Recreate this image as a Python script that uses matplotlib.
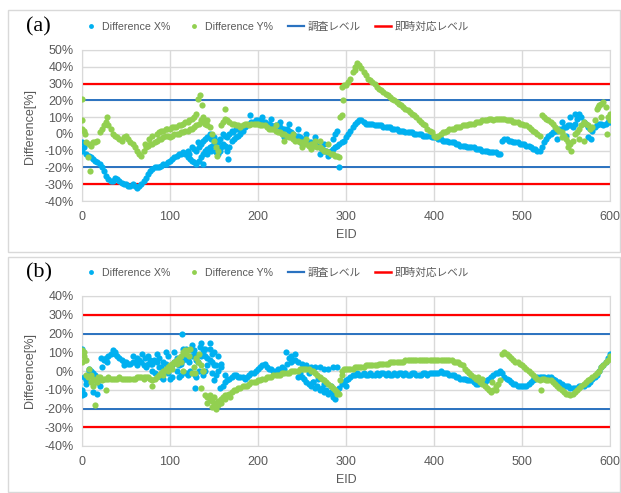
import numpy as np
import matplotlib
matplotlib.use('Agg')
import matplotlib.pyplot as plt
from matplotlib.lines import Line2D
from matplotlib.patches import Rectangle

plt.rcParams['font.family'] = ['Liberation Sans', 'Noto Sans CJK JP']

# EID sampled every 5 along the main bands, plus the in-between samples
eid = np.arange(0, 601, 5)
eid_off = np.arange(2.5, 600, 5)

# ---- (a) ----
xa = [-5, -12, -14, -16, -18, -22, -27, -28, -27, -29, -30, -31, -31, -31, -28, -24, -21, -20, -19, -18,
      -16, -14, -12, -11, -14, -16, -18, -14, -10, -8, -6, -12, -6, -10, -4, -2, 0, 4, 6, 7,
      8, 7, 6, 5, 5, 4, 3, 2, 0, -1, -3, -4, -5, -6, -8, -10, -11, -9, -7, -5,
      -2, 2, 6, 8, 7, 6, 6, 5, 5, 4, 4, 3, 2, 2, 1, 1, 0, 0, -1, -1,
      -2, -3, -4, -4, -5, -6, -7, -7, -8, -8, -9, -10, -10, -11, -11, -12, -3, -4, -5, -5,
      -6, -7, -8, -9, -10, -5, -1, 1, 2, 3, 4, 5, 6, 12, 7, 4, 2, 5, 6, 6, 7]
xa_off = [-8, -13, -15, -17, -20, -25, -28, -26, -28, -30, -31, -30, -32, -30, -26, -22, -20, -20, -18, -17,
          -15, -13, -12, -12, -15, -17, -16, -12, -9, -7, -10, -8, -7, -8, -3, -1, 2, 5, 7, 8,
          7, 7, 6, 4, 5, 3, 3, 1, -1, -2, -3, -5, -6, -7, -9, -10, -10, -8, -6, -4,
          0, 4, 7, 8, 6, 6, 5, 5, 4, 4, 3, 3, 2, 1, 1, 0, 0, -1, -1, -2,
          -2, -3, -4, -5, -5, -6, -7, -8, -8, -9, -9, -10, -11, -11, -12, -4, -3, -4, -5, -6,
          -6, -7, -9, -10, -8, -3, 0, 2, 3, 4, 5, 4, 9, 10, 6, 3, 4, 6, 5, 7]
ya = [8, -5, -7, -5, 1, 5, 5, 0, -2, -4, -1, -5, -8, -12, -10, -7, -6, -4, -3, -1,
      -2, 0, 0, 1, 2, 3, 5, 8, 6, 4, -4, -10, 7, 8, 6, 5, 4, 6, 5, 6,
      6, 5, 4, 3, 2, 1, 0, -2, -3, -4, -5, -6, -6, -7, -8, -10, -11, -12, -13, 28,
      29, 33, 40, 41, 37, 33, 31, 28, 26, 24, 22, 20, 18, 16, 14, 12, 10, 7, 5, 2,
      -1, -1, 1, 2, 3, 4, 4, 5, 6, 6, 7, 8, 8, 9, 9, 9, 9, 8, 7, 7,
      6, 5, 3, 1, -1, 10, 8, 6, 3, 1, -3, -6, 0, 3, 7, 5, 4, 15, 18, 16, 8]
ya_off = [2, -6, -5, -4, 3, 7, 3, -1, -3, -2, -3, -6, -10, -13, -8, -6, -5, -3, -2, -1,
          -1, 0, 1, 2, 3, 4, 6, 7, 5, 0, -8, 5, 9, 7, 6, 5, 5, 6, 6, 6,
          5, 5, 3, 3, 1, 0, -1, -2, -4, -5, -5, -7, -7, -8, -9, -10, -12, -13, -14, 29,
          31, 37, 41, 39, 35, 32, 30, 27, 25, 23, 21, 19, 17, 15, 13, 11, 8, 6, 3, 1,
          -2, 0, 1, 3, 3, 4, 5, 5, 6, 7, 7, 8, 9, 8, 9, 9, 8, 8, 7, 6,
          5, 4, 2, 0, 11, 9, 7, 4, 2, -1, -5, -4, 1, 5, 6, 3, 8, 17, 19, 10]

# second branch and scattered points
xa_eid2 = [0, 120, 125, 130, 132, 135, 138, 140, 145, 150, 155, 160, 165, 166, 170, 175, 180, 191,
           122, 127, 133, 137, 142, 147, 152, 157, 162, 167, 172, 177,
           142, 147, 152, 157, 162,
           205, 215, 225, 230, 235, 245, 250, 255, 265, 270, 275, 280, 285, 288, 290, 292,
           540, 545, 550, 555, 560, 575, 578]
xa_val2 = [-10, -10, -8, -10, -5, -6, -18, -3, 0, -2, -5, 0, -2, -15, 2, 3, 4, 11,
           -12, -9, -8, -4, -2, -3, -4, -3, -1, 0, 1, 3,
           -12, -10, -11, -10, -7,
           10, 9, 7, -2, 6, 3, -6, 0, -2, -12, -6, -13, -3, 0, 2, -20,
           -3, 7, -1, 10, 12, -2, -3]
ya_eid2 = [0, 0, 3, 7, 9, 28, 72, 76, 80, 85, 90, 95, 100, 105, 110, 115, 120, 125, 130, 132, 134,
           87, 92, 97, 102, 107, 112, 117, 122, 127,
           136, 138, 142, 153, 163, 220, 230, 240, 250, 255, 260, 265, 270, 280,
           293, 295, 297, 310, 312, 545, 552, 556, 565, 570, 586, 590, 597, 600]
ya_val2 = [21, 3, 0, -14, -22, 10, -6, -3, -1, 0, 2, 3, 3, 4, 5, 6, 7, 9, 12, 21, 23,
           1, 2, 3, 4, 4, 5, 7, 8, 10,
           17, 10, 8, -13, 15, 5, -4, 0, -8, -3, -9, -4, -4, -6,
           10, 11, 20, 38, 42, -2, -8, -10, -3, -4, 16, 10, 0, 12]

# ---- (b) ----
xb = [-10, -5, 0, -2, -8, 6, 8, 11, 8, 6, 5, 4, 5, 6, 3, 8, 0, 9, -3, 10,
      -4, 10, -3, 12, -2, 14, -3, 15, 0, 12, -5, 8, -8, -5, -3, -2, -3, -4, -2, -1,
      1, 3, 2, 1, 0, 0, 1, 7, 6, 5, -3, -6, -8, -9, -10, -11, -12, -14, -10, -7,
      -5, -3, -2, -2, -1, -2, -2, -1, -1, -2, -2, -1, -1, -2, -2, -1, -2, -2, -1, -1,
      -1, -1, -1, -1, -2, -3, -4, -4, -5, -6, -7, -6, -5, -3, -1, 0, -3, -5, -7, -8,
      -8, -8, -6, -4, -3, -3, -3, -4, -6, -7, -8, -9, -9, -8, -8, -7, -4, -2, 2, 5, 9]
xb_off = [-3, 0, -1, -6, 2, 7, 9, 9, 7, 5, 4, 5, 7, 5, 2, 6, -1, 7, -4, 8,
          -3, 6, -2, 10, 0, 11, 0, 12, 3, 9, -2, 4, -6, -4, -2, -3, -3, -3, -1, 0,
          2, 4, 1, 0, 1, 2, 4, 5, 6, -1, -4, -7, -6, -8, -9, -10, -11, -12, -9, -6,
          -4, -2, -1, -2, -2, -1, -2, -2, -1, -1, -2, -2, -1, -1, -2, -1, -2, -1, -2, -1,
          -1, 0, -1, -2, -2, -3, -4, -5, -5, -7, -6, -6, -4, -2, -1, -1, -4, -6, -7, -8,
          -8, -7, -5, -3, -3, -4, -3, -5, -6, -8, -8, -9, -9, -8, -7, -6, -3, 0, 3, 7]
yb = [11, 6, -2, -5, -3, -4, -4, -4, -4, -4, -4, -4, -4, -3, -3, -3, -5, -3, -1, 1,
      3, 5, 7, 10, 11, -1, 7, 3, -13, -15, -17, -16, -14, -13, -11, -10, -9, -8, -7, -6,
      -5, -4, -3, -3, -2, -2, -1, -1, 0, 0, 1, 1, 0, -1, -3, -5, -7, -9, -11, 0,
      1, 1, 2, 2, 2, 3, 3, 3, 4, 4, 5, 5, 5, 5, 6, 6, 6, 6, 6, 6,
      6, 6, 6, 6, 6, 5, 4, 1, -1, -3, -5, -7, -9, -11, -8, -5, 10, 8, 6, 5,
      3, 1, -1, -3, -5, -4, -5, -6, -8, -10, -12, -13, -11, -9, -7, -5, -3, -1, 2, 5, 8]
yb_off = [8, 1, -4, -6, -5, -4, -4, -4, -3, -4, -4, -4, -3, -3, -3, -4, -4, -2, 0, 2,
          4, 6, 8, 11, 12, 2, 9, 0, -14, -16, -18, -15, -13, -12, -10, -9, -8, -8, -6, -6,
          -5, -4, -3, -2, -2, -1, -1, 0, 0, 1, 1, 1, 0, -2, -4, -6, -8, -10, -12, 1,
          1, 1, 2, 2, 3, 3, 3, 4, 4, 4, 5, 5, 5, 6, 6, 6, 6, 6, 6, 6,
          6, 6, 6, 6, 5, 5, 3, 0, -2, -4, -6, -8, -10, -10, -7, 9, 9, 7, 5, 4,
          2, 0, -2, -4, -4, -5, -5, -7, -9, -11, -12, -12, -10, -8, -6, -4, -2, 0, 3, 6]

xb_eid2 = [0, 0, 2, 5, 8, 12, 17, 22, 28, 38, 48, 58, 62, 68, 72, 78, 82, 88, 92, 98,
           102, 108, 112, 114, 118, 122, 128, 128, 132, 138, 142, 148, 152, 157, 158, 162,
           75, 80, 85, 90, 95, 100, 105, 110, 115, 120, 125, 130, 135, 140, 145, 150, 155,
           88, 98, 108, 118, 128, 138, 148, 118, 124, 134, 140, 145, 150,
           232, 238, 242, 245, 250, 255, 258, 260, 262, 265, 268, 270, 275, 275, 280, 283,
           285, 288, 290, 300]
xb_val2 = [12, -13, -12, -7, 1, -11, -12, 7, 5, 10, 3, 8, 3, 9, 7, 4, 6, 2, 5, 1,
           3, 7, 4, 20, 8, 5, 9, -9, 5, 10, 7, 5, 3, -9, 2, -2,
           4, 4, 5, 2, 4, 2, 5, 3, 6, 6, 8, 6, 8, 8, 6, 3, 0,
           -2, -1, 0, -1, -2, -2, -1, 12, 11, 13, 12, 15, 10,
           10, 8, 9, -3, 4, 3, -1, 2, -6, 2, -4, 2, 1, -7, 1, -8,
           2, -15, 2, -8]
yb_eid2 = [0, 2, 3, 4, 7, 10, 12, 15, 18, 27, 30, 70, 79, 92, 98, 102, 108, 112, 115, 118,
           122, 128, 132, 135, 138, 142, 145, 148, 150, 152, 155, 158, 163, 168,
           290, 293, 296, 450, 455, 466, 470, 522]
yb_val2 = [5, 10, 6, -2, -3, -6, -8, -18, -3, -10, -3, -4, -8, -2, 0, 1, 4, 5, 0, 9,
           8, -1, 5, -9, 0, -17, -13, -19, -14, -20, -18, -17, -15, -14,
           -12, -5, -2, -3, -4, -6, -10, -10]

blue = '#00b0f0'
green = '#92d050'
grey = '#595959'
gridc = '#d9d9d9'

fig = plt.figure(figsize=(6.21, 4.93), dpi=100)

# light frames around each panel
fig.add_artist(Rectangle((8/621, 1-252/493), 612/621, 242/493, transform=fig.transFigure,
                         fill=False, edgecolor=gridc, lw=1))
fig.add_artist(Rectangle((8/621, 1-492/493), 612/621, 235/493, transform=fig.transFigure,
                         fill=False, edgecolor=gridc, lw=1))


def panel(rect, xs, ys, ylo, yhi, tag, leg_y, lab_y, eid_y):
    ax = fig.add_axes(rect)
    for e, v in xs:
        ax.scatter(e, v, s=20, color=blue, lw=0, zorder=3)
    for e, v in ys:
        ax.scatter(e, v, s=20, color=green, lw=0, zorder=4)
    for lv in (20, -20):
        ax.axhline(lv, color='#2a72c0', lw=1.4, zorder=2)
    for lv in (30, -30):
        ax.axhline(lv, color='#ff0000', lw=1.6, zorder=2)
    ax.set_xlim(0, 600)
    ax.set_ylim(ylo, yhi)
    ax.set_xticks(range(0, 601, 100))
    ax.set_yticks(range(ylo, yhi + 1, 10))
    ax.set_yticklabels([f'{t}%' for t in range(ylo, yhi + 1, 10)])
    ax.grid(True, color=gridc, lw=1)
    ax.set_axisbelow(True)
    for s in ax.spines.values():
        s.set_color(gridc)
    ax.tick_params(length=0, colors=grey, labelsize=9, pad=7)
    ax.tick_params(axis='y', pad=6)

    fig.text(26/621, 1-leg_y/493, tag, family='Liberation Serif', fontsize=16,
             va='center', ha='left', color='black')
    handles = [Line2D([], [], ls='none', marker='o', ms=3.5, color=blue, mec='none'),
               Line2D([], [], ls='none', marker='o', ms=3.5, color=green, mec='none'),
               Line2D([], [], color='#2a72c0', lw=1.6),
               Line2D([], [], color='#ff0000', lw=1.8)]
    names = ['Difference X%', 'Difference Y%', '調査レベル', '即時対応レベル']
    fig.legend(handles, names, loc='center', bbox_to_anchor=(276/621, 1-leg_y/493), ncol=4,
               frameon=False, fontsize=7.7, labelcolor=grey, handlelength=1.5,
               handletextpad=0.3, columnspacing=1.4)
    fig.text(30/621, 1-lab_y/493, 'Difference[%]', rotation=90, fontsize=9, color=grey,
             ha='center', va='center')
    fig.text(346/621, 1-eid_y/493, 'EID', fontsize=9, color=grey, ha='center', va='center')
    return ax


panel([82/621, 1-201/493, 528/621, 151/493],
      [(eid, xa), (eid_off, xa_off), (xa_eid2, xa_val2)],
      [(eid, ya), (eid_off, ya_off), (ya_eid2, ya_val2)],
      -40, 50, '(a)', 27, 126, 235)
panel([82/621, 1-446/493, 528/621, 150/493],
      [(eid, xb), (eid_off, xb_off), (xb_eid2, xb_val2)],
      [(eid, yb), (eid_off, yb_off), (yb_eid2, yb_val2)],
      -40, 40, '(b)', 273, 371, 480)

plt.savefig('out.png', dpi=100)
